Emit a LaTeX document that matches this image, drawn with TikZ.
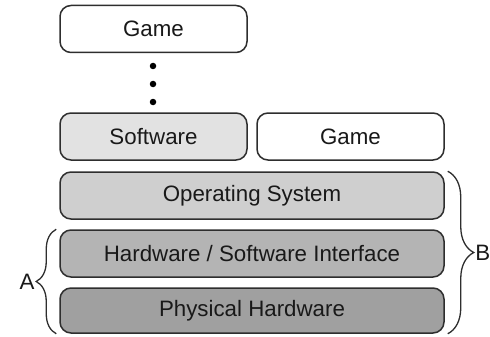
\documentclass[tikz,border=0pt]{standalone}
\usepackage{fontspec}
\setmainfont{Liberation Sans}
\usetikzlibrary{decorations.pathreplacing}
\definecolor{edge}{HTML}{2E2E2E}
\definecolor{fsoft}{HTML}{E2E2E2}
\definecolor{fos}{HTML}{CFCFCF}
\definecolor{fhw}{HTML}{B4B4B4}
\definecolor{fphys}{HTML}{A0A0A0}
\begin{document}
\begin{tikzpicture}[x=1pt,y=-1pt,
  lbl/.style={font=\fontsize{22.3}{26}\selectfont, text=black!90},
  layer/.style={lbl, draw=edge, line width=1.5pt, rounded corners=11pt, minimum height=47pt, inner sep=0pt},
  narrow/.style={layer, minimum width=187pt},
  wide/.style={layer, minimum width=384pt},
  dotmark/.style={circle, fill=black, inner sep=0pt, minimum size=6.5pt},
  bracedeco/.style={draw=edge, line width=1.3pt, decorate, decoration={brace, amplitude=#1}}
]
\useasboundingbox (0,0) rectangle (490,337);
\node[narrow, fill=white] (game1) at (153.5,29) {Game};
\node[dotmark] (d1) at (153,66) {};
\node[dotmark] (d2) at (153,84) {};
\node[dotmark] (d3) at (153,102) {};
\node[narrow, fill=fsoft] (soft) at (153.5,136.5) {Software};
\node[narrow, fill=white] (game2) at (350.5,136.5) {Game};
\node[wide, fill=fos] (os) at (252,195.5) {Operating System};
\node[wide, fill=fhw] (hw) at (252,253.5) {Hardware / Software Interface};
\node[wide, fill=fphys, minimum height=45pt] (phys) at (252,310.5) {Physical Hardware};
\coordinate (a1) at ([xshift=-3pt]phys.south west);
\coordinate (a2) at ([xshift=-3pt]hw.north west);
\coordinate (b1) at ([xshift=3pt]os.north east);
\coordinate (b2) at ([xshift=3pt]phys.south east);
\draw[bracedeco=20pt] (a1) -- (a2) node[midway, left=20pt, lbl, inner sep=1pt] (la) {A};
\draw[bracedeco=26pt] (b1) -- (b2) node[midway, right=26pt, lbl, inner sep=1pt] (lb) {B};
\end{tikzpicture}
\end{document}
